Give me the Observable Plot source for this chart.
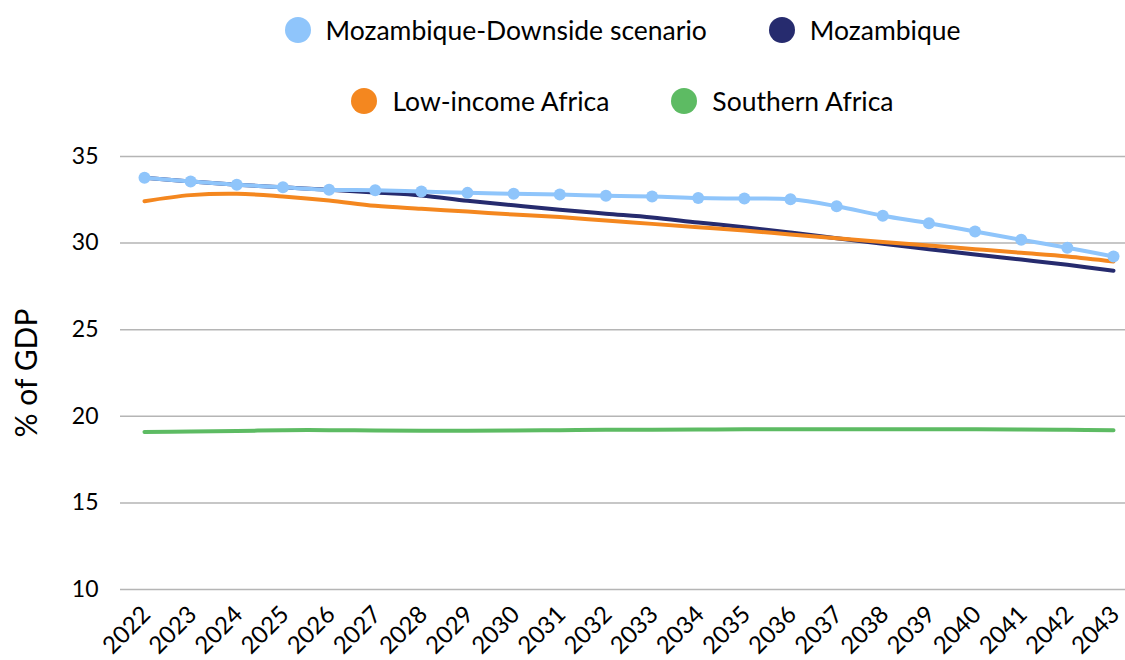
<!DOCTYPE html>
<html><head><meta charset="utf-8">
<script src="https://cdn.jsdelivr.net/npm/d3@7"></script>
<script src="https://cdn.jsdelivr.net/npm/@observablehq/plot@0.6"></script>
<style>
body{margin:0;background:#fff;font-family:Lato, "DejaVu Sans", sans-serif;overflow:hidden}
#legend{height:130px;width:1125px;position:relative}
.row{position:absolute;left:120px;right:0;height:30px;display:flex;justify-content:center;align-items:center;gap:62px;}
.item{display:flex;align-items:center;font-size:26.5px;color:#000;white-space:nowrap}
.sw{width:26px;height:26px;border-radius:50%;margin-right:15px;flex:none}
</style>
</head><body>
<div id="legend"></div>
<div id="chart"></div>
<script>
const years = [2022,2023,2024,2025,2026,2027,2028,2029,2030,2031,2032,2033,2034,2035,2036,2037,2038,2039,2040,2041,2042,2043];
const downside = [33.77,33.56,33.37,33.22,33.08,33.05,32.98,32.90,32.85,32.80,32.73,32.69,32.60,32.57,32.53,32.13,31.58,31.15,30.67,30.19,29.73,29.23];
const mozambique = [33.77,33.56,33.37,33.22,33.08,32.92,32.75,32.44,32.18,31.93,31.70,31.48,31.19,30.92,30.61,30.28,29.96,29.65,29.34,29.05,28.75,28.40];
const lowIncome = [32.42,32.77,32.85,32.69,32.46,32.15,31.98,31.82,31.65,31.50,31.30,31.11,30.92,30.73,30.50,30.28,30.07,29.86,29.65,29.44,29.23,28.94];
const southern = [19.10,19.12,19.15,19.20,19.20,19.18,19.17,19.17,19.18,19.20,19.22,19.23,19.24,19.25,19.25,19.25,19.25,19.25,19.25,19.24,19.22,19.20];
const yTicks = [10,15,20,25,30,35];
const seriesNames = ["Mozambique-Downside scenario","Mozambique","Low-income Africa","Southern Africa"];
const seriesColors = ["#8fc5fb","#262b6e","#f4871f","#5dbb63"];
const legendRows = [[0,1],[2,3]];

// legend
const legend = document.getElementById("legend");
legendRows.forEach((row, ri) => {
  const r = document.createElement("div");
  r.className = "row";
  r.style.top = (15 + ri * 71) + "px";
  row.forEach(i => {
    const it = document.createElement("div");
    it.className = "item";
    it.innerHTML = `<span class="sw" style="background:${seriesColors[i]}"></span><span>${seriesNames[i]}</span>`;
    r.appendChild(it);
  });
  legend.appendChild(r);
});

const mk = (vals, name) => years.map((y, i) => ({year: y, value: vals[i], series: name}));
const dDown = mk(downside, seriesNames[0]);
const dMoz = mk(mozambique, seriesNames[1]);
const dLow = mk(lowIncome, seriesNames[2]);
const dSou = mk(southern, seriesNames[3]);

const plot = Plot.plot({
  width: 1125, height: 530,
  marginTop: 26, marginBottom: 71, marginLeft: 144, marginRight: 12,
  x: {domain: [2022, 2043]},
  y: {domain: [10, 35]},
  style: {fontFamily: "Lato, 'DejaVu Sans', sans-serif", fontSize: "23px", color: "#000", background: "#fff", overflow: "visible"},
  marks: [
    Plot.ruleY(yTicks, {stroke: "#b5b5b5", strokeWidth: 1.5, insetLeft: -24, insetRight: -12}),
    Plot.axisY({ticks: yTicks, tickSize: 0, tickPadding: 46, label: null, fontSize: 23}),
    Plot.text(["% of GDP"], {frameAnchor: "left", textAnchor: "middle", rotate: -90, dx: -117, fontSize: 30, fill: "#000"}),
    Plot.axisX({ticks: years, tickFormat: d => String(d), tickSize: 0, tickRotate: -45, tickPadding: 21, dx: 2, label: null, fontSize: 24}),
    Plot.line(dSou, {x: "year", y: "value", stroke: seriesColors[3], strokeWidth: 4, curve: "catmull-rom"}),
    Plot.line(dMoz, {x: "year", y: "value", stroke: seriesColors[1], strokeWidth: 4, curve: "catmull-rom"}),
    Plot.line(dLow, {x: "year", y: "value", stroke: seriesColors[2], strokeWidth: 4, curve: "catmull-rom"}),
    Plot.line(dDown, {x: "year", y: "value", stroke: seriesColors[0], strokeWidth: 4, curve: "catmull-rom"}),
    Plot.dot(dDown, {x: "year", y: "value", fill: seriesColors[0], r: 6})
  ]
});
document.getElementById("chart").appendChild(plot);
</script>
</body></html>
